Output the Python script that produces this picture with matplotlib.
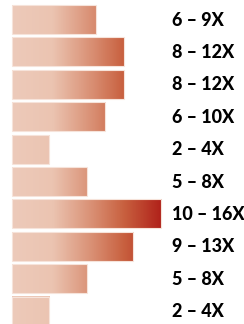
import numpy as np
import matplotlib.pyplot as plt
from matplotlib.colors import LinearSegmentedColormap

# ranges shown on each row (low - high multiplier)
labels = ["6 – 9X", "8 – 12X", "8 – 12X", "6 – 10X", "2 – 4X",
          "5 – 8X", "10 – 16X", "9 – 13X", "5 – 8X", "2 – 4X"]
low = [6, 8, 8, 6, 2, 5, 10, 9, 5, 2]
high = [9, 12, 12, 10, 4, 8, 16, 13, 8, 4]

cmap = LinearSegmentedColormap.from_list(
    "peach_red",
    [(0.0, "#EDCABA"), (0.27, "#EBC4B1"), (0.55, "#D88C70"),
     (0.75, "#C8603F"), (1.0, "#B0211A")])

fig = plt.figure(figsize=(2.44, 3.24), dpi=100)
ax = fig.add_axes([0, 0, 1, 1])

vmax = max(high)
px = 149 / vmax           # pixels per unit
pitch = 32.4
bar_h = 29 / pitch

for i, (lab, hi) in enumerate(zip(labels, high)):
    grad = np.linspace(0, hi / vmax, 200).reshape(1, -1)
    ax.imshow(grad, cmap=cmap, vmin=0, vmax=1, aspect="auto",
              extent=[0, hi, i + bar_h / 2, i - bar_h / 2],
              interpolation="bilinear")
    ax.add_patch(plt.Rectangle((0, i - bar_h / 2), hi, bar_h, fill=False,
                               edgecolor="#F6E3DA", linewidth=0.8))
    ax.text(160 / px, i + 0.02, lab, ha="left", va="center",
            fontsize=13, fontweight=900, family=["Lato", "DejaVu Sans"],
            color="black")

ax.set_xlim(-12 / px, 232 / px)
ax.set_ylim((324 - 19.5) / pitch, -19.5 / pitch)
ax.axis("off")

fig.savefig("out.png", dpi=100)
